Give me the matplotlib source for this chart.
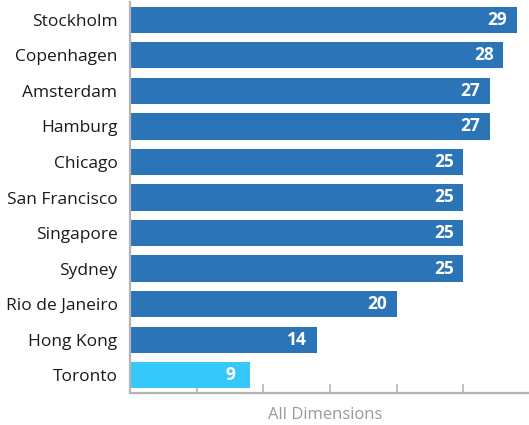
import matplotlib
matplotlib.use("Agg")
import matplotlib.pyplot as plt

cities = [
    "Stockholm", "Copenhagen", "Amsterdam", "Hamburg", "Chicago",
    "San Francisco", "Singapore", "Sydney", "Rio de Janeiro", "Hong Kong",
    "Toronto",
]
scores = [29, 28, 27, 27, 25, 25, 25, 25, 20, 14, 9]
highlight = "Toronto"

BLUE = "#2b74b8"
CYAN = "#35c9fb"
AXIS_GREY = "#b4b4b4"

plt.rcParams["font.family"] = ["Open Sans", "DejaVu Sans"]

fig = plt.figure(figsize=(5.29, 4.25), dpi=100)
ax = fig.add_axes([130 / 529, 32 / 425, 400 / 529, 391 / 425])

ypos = list(range(len(cities)))
colors = [CYAN if c == highlight else BLUE for c in cities]
ax.barh(ypos, scores, height=0.74, color=colors, zorder=2)

for y, v in zip(ypos, scores):
    ax.annotate(str(v), xy=(v, y), xytext=(-14, 0), textcoords="offset points",
                ha="center", va="center", color="white", fontsize=12.5,
                fontweight="bold", zorder=3)

ax.set_xlim(0, 30)
ax.set_ylim(len(cities) - 0.5, -0.5)
ax.set_yticks(ypos)
ax.set_yticklabels(cities, fontsize=12.5, color="#1a1a1a")
ax.tick_params(axis="y", length=0, pad=9)

ax.set_xticks([5, 10, 15, 20, 25])
ax.set_xticklabels([])
ax.tick_params(axis="x", direction="in", length=6.5, width=1.2, color=AXIS_GREY)

ax.set_xlabel("All Dimensions", fontsize=12, color="#999999", labelpad=6)
ax.xaxis.set_label_coords(0.4875, -0.035)

for side in ["top", "right"]:
    ax.spines[side].set_visible(False)
for side in ["left", "bottom"]:
    ax.spines[side].set_color(AXIS_GREY)
    ax.spines[side].set_linewidth(1.6)

fig.savefig("out.png", dpi=100, facecolor="white")
